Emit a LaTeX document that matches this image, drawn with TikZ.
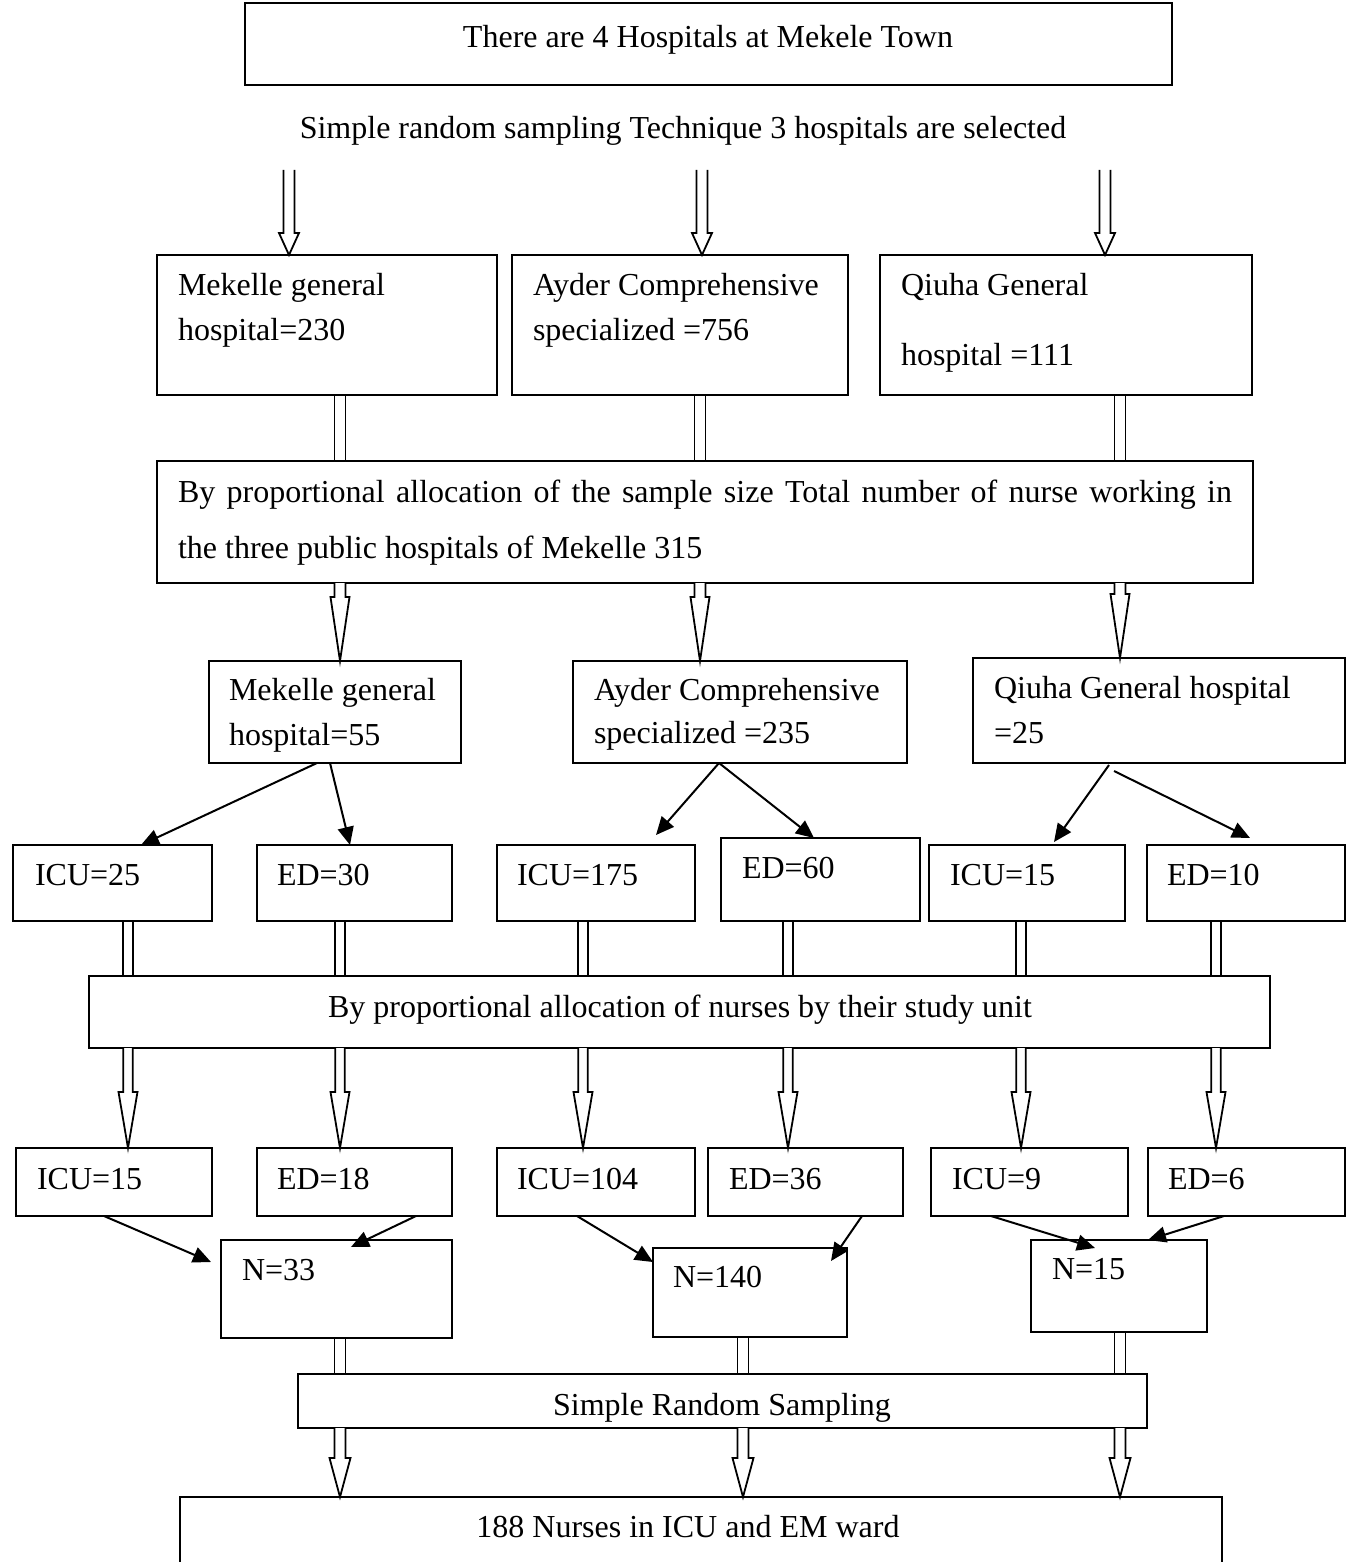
\documentclass[tikz,border=0pt]{standalone}
\usepackage{fontspec}
\setmainfont{Liberation Serif}
\usetikzlibrary{calc,arrows.meta}
\tikzset{
  box/.style={draw, line width=0.9pt, inner sep=0pt, outer sep=0pt},
  txt/.style={anchor=base west, inner sep=0pt, outer sep=0pt, font=\fontsize{16pt}{19pt}\selectfont},
  ctxt/.style={anchor=base, inner sep=0pt, outer sep=0pt, font=\fontsize{16pt}{19pt}\selectfont},
  blk/.style={draw, line width=0.9pt, fill=white, line join=miter},
  thin/.style={line width=1pt, -{Triangle[length=9pt,width=8pt]}}
}
\newcommand{\bx}[5]{\node[box, minimum width={(#4-#2)*0.5pt}, minimum height={(#5-#3)*0.5pt}] (#1) at ({(#2+#4)/2},{(#3+#5)/2}) {};}
\newcommand{\blkarrow}[6]{\draw[blk] let \p1=#1, \p2=#2, \p3=#3 in (\x1-#4,\y2) -- (\x1-#4,\y3+#6) -- (\x1-#5,\y3+#6) -- (\x1,\y3) -- (\x1+#5,\y3+#6) -- (\x1+#4,\y3+#6) -- (\x1+#4,\y2);}
\newcommand{\dshaft}[4]{\draw[blk] let \p1=#1, \p2=#2, \p3=#3 in (\x1-#4,\y2) -- (\x1-#4,\y3) (\x1+#4,\y2) -- (\x1+#4,\y3);}
\begin{document}
\begin{tikzpicture}[x=0.5pt,y=-0.5pt]
\useasboundingbox (0,0) rectangle (1351,1562);
% boxes
\bx{TOP}{245}{3}{1172}{85}
\bx{A1}{157}{255}{497}{395}
\bx{A2}{512}{255}{848}{395}
\bx{A3}{880}{255}{1252}{395}
\bx{P1}{157}{461}{1253}{583}
\bx{B1}{209}{661}{461}{763}
\bx{B2}{573}{661}{907}{763}
\bx{B3}{973}{658}{1345}{763}
\bx{C1}{13}{845}{212}{921}
\bx{C2}{257}{845}{452}{921}
\bx{C3}{497}{845}{695}{921}
\bx{C4}{721}{838}{920}{921}
\bx{C5}{929}{845}{1125}{921}
\bx{C6}{1147}{845}{1345}{921}
\bx{P2}{89}{976}{1270}{1048}
\bx{D1}{16}{1148}{212}{1216}
\bx{D2}{257}{1148}{452}{1216}
\bx{D3}{497}{1148}{695}{1216}
\bx{D4}{708}{1148}{903}{1216}
\bx{D5}{931}{1148}{1128}{1216}
\bx{D6}{1148}{1148}{1345}{1216}
\bx{E1}{221}{1240}{452}{1338}
\bx{E2}{653}{1248}{847}{1337}
\bx{E3}{1031}{1240}{1207}{1332}
\bx{SRS}{298}{1374}{1147}{1428}
\node[inner sep=0pt, outer sep=0pt, minimum width={1042*0.5pt}, minimum height={103*0.5pt}] (BOT) at (701,1548.5) {};
\draw[line width=0.9pt] (BOT.south west) |- (BOT.north east) -- (BOT.south east);
% texts
\node[ctxt] (tTOP) at (708,48) {There are 4 Hospitals at Mekele Town};
\node[ctxt] (tSEL) at (683,139) {Simple random sampling Technique 3 hospitals are selected};
\node[txt] (tA1a) at (178,295) {Mekelle general};
\node[txt] (tA1b) at (178,340) {hospital=230};
\node[txt] (tA2a) at (533,295) {Ayder Comprehensive};
\node[txt] (tA2b) at (533,340) {specialized =756};
\node[txt] (tA3a) at (901,295) {Qiuha General};
\node[txt] (tA3b) at (901,365) {hospital =111};
\node[txt, text width={1054*0.5pt}, align=justify, font=\fontsize{16pt}{28pt}\selectfont] (tP1) at (178,502) {By proportional allocation of the sample size Total number of nurse working in\linebreak the three public hospitals of Mekelle 315};
\node[txt] (tB1a) at (229,700) {Mekelle general};
\node[txt] (tB1b) at (229,745) {hospital=55};
\node[txt] (tB2a) at (594,700) {Ayder Comprehensive};
\node[txt] (tB2b) at (594,743) {specialized =235};
\node[txt] (tB3a) at (994,698) {Qiuha General hospital};
\node[txt] (tB3b) at (994,743) {=25};
\node[txt] (tC1) at (35,885) {ICU=25};
\node[txt] (tC2) at (277,885) {ED=30};
\node[txt] (tC3) at (517,885) {ICU=175};
\node[txt] (tC4) at (742,878) {ED=60};
\node[txt] (tC5) at (950,885) {ICU=15};
\node[txt] (tC6) at (1167,885) {ED=10};
\node[ctxt] (tP2) at (680,1017) {By proportional allocation of nurses by their study unit};
\node[txt] (tD1) at (37,1189) {ICU=15};
\node[txt] (tD2) at (277,1189) {ED=18};
\node[txt] (tD3) at (517,1189) {ICU=104};
\node[txt] (tD4) at (729,1189) {ED=36};
\node[txt] (tD5) at (952,1189) {ICU=9};
\node[txt] (tD6) at (1168,1189) {ED=6};
\node[txt] (tE1) at (242,1280) {N=33};
\node[txt] (tE2) at (673,1287) {N=140};
\node[txt] (tE3) at (1052,1279) {N=15};
\node[ctxt] (tSRS) at (722,1415) {Simple Random Sampling};
\node[ctxt] (tBOT) at (688,1537) {188 Nurses in ICU and EM ward};
% top block arrows
\coordinate (t1) at (289,170);
\coordinate (t2) at (702,170);
\coordinate (t3) at (1105,170);
\blkarrow{(t1)}{(t1)}{(A1.north)}{2.75pt}{5pt}{11pt}
\blkarrow{(t2)}{(t2)}{(A2.north)}{2.75pt}{5pt}{11pt}
\blkarrow{(t3)}{(t3)}{(A3.north)}{2.75pt}{5pt}{11pt}
% A -> P1 shafts
\dshaft{($(A1.south west)+(183,0)$)}{(A1.south)}{(P1.north)}{2.75pt}
\dshaft{($(A2.south west)+(188,0)$)}{(A2.south)}{(P1.north)}{2.75pt}
\dshaft{($(A3.south west)+(240,0)$)}{(A3.south)}{(P1.north)}{2.75pt}
% P1 -> B arrows
\blkarrow{($(B1.north west)+(131,0)$)}{(P1.south)}{(B1.north)}{2.75pt}{4.75pt}{32pt}
\blkarrow{($(B2.north west)+(127,0)$)}{(P1.south)}{(B2.north)}{2.75pt}{4.75pt}{32pt}
\blkarrow{($(B3.north west)+(147,0)$)}{(P1.south)}{(B3.north)}{2.75pt}{4.75pt}{32pt}
% B -> C thin arrows
\draw[thin] ($(B1.south west)+(108,0)$) -- ($(C1.north west)+(128,0)$);
\draw[thin] ($(B1.south west)+(121,0)$) -- ($(C2.north west)+(93,0)$);
\draw[thin] ($(B2.south west)+(146,0)$) -- ($(C3.north west)+(159,-10)$);
\draw[thin] ($(B2.south west)+(146,0)$) -- ($(C4.north west)+(93,0)$);
\draw[thin] ($(B3.south west)+(136,2)$) -- ($(C5.north west)+(125,-3)$);
\draw[thin] ($(B3.south west)+(141,8)$) -- ($(C6.north west)+(103,-7)$);
% C -> P2 shafts
\dshaft{($(C1.south west)+(115,0)$)}{(C1.south)}{(P2.north)}{2.4pt}
\dshaft{($(C2.south west)+(83,0)$)}{(C2.south)}{(P2.north)}{2.4pt}
\dshaft{($(C3.south west)+(86,0)$)}{(C3.south)}{(P2.north)}{2.4pt}
\dshaft{($(C4.south west)+(67,0)$)}{(C4.south)}{(P2.north)}{2.4pt}
\dshaft{($(C5.south west)+(92,0)$)}{(C5.south)}{(P2.north)}{2.4pt}
\dshaft{($(C6.south west)+(69,0)$)}{(C6.south)}{(P2.north)}{2.4pt}
% P2 -> D arrows
\blkarrow{($(D1.north west)+(112,0)$)}{(P2.south)}{(D1.north)}{2.4pt}{4.75pt}{28pt}
\blkarrow{($(D2.north west)+(83,0)$)}{(P2.south)}{(D2.north)}{2.4pt}{4.75pt}{28pt}
\blkarrow{($(D3.north west)+(86,0)$)}{(P2.south)}{(D3.north)}{2.4pt}{4.75pt}{28pt}
\blkarrow{($(D4.north west)+(80,0)$)}{(P2.south)}{(D4.north)}{2.4pt}{4.75pt}{28pt}
\blkarrow{($(D5.north west)+(90,0)$)}{(P2.south)}{(D5.north)}{2.4pt}{4.75pt}{28pt}
\blkarrow{($(D6.north west)+(68,0)$)}{(P2.south)}{(D6.north)}{2.4pt}{4.75pt}{28pt}
% D -> E thin arrows
\draw[thin] ($(D1.south west)+(88,0)$) -- ($(E1.north west)+(-10,22)$);
\draw[thin] ($(D2.south west)+(159,0)$) -- ($(E1.north west)+(130,7)$);
\draw[thin] ($(D3.south west)+(80,0)$) -- ($(E2.north west)+(0,14)$);
\draw[thin] ($(D4.south west)+(154,0)$) -- ($(E2.north west)+(178,13)$);
\draw[thin] ($(D5.south west)+(60,0)$) -- ($(E3.north west)+(64,8)$);
\draw[thin] ($(D6.south west)+(76,0)$) -- ($(E3.north west)+(117,0)$);
% E -> SRS shafts
\dshaft{($(E1.south west)+(119,0)$)}{(E1.south)}{(SRS.north)}{2.75pt}
\dshaft{($(E2.south west)+(90,0)$)}{(E2.south)}{(SRS.north)}{2.75pt}
\dshaft{($(E3.south west)+(89,0)$)}{(E3.south)}{(SRS.north)}{2.75pt}
% SRS -> BOT arrows
\blkarrow{($(E1.south west)+(119,0)$)}{(SRS.south)}{(BOT.north)}{2.75pt}{5.25pt}{19.5pt}
\blkarrow{($(E2.south west)+(90,0)$)}{(SRS.south)}{(BOT.north)}{2.75pt}{5.25pt}{19.5pt}
\blkarrow{($(E3.south west)+(89,0)$)}{(SRS.south)}{(BOT.north)}{2.75pt}{5.25pt}{19.5pt}
\end{tikzpicture}
\end{document}
